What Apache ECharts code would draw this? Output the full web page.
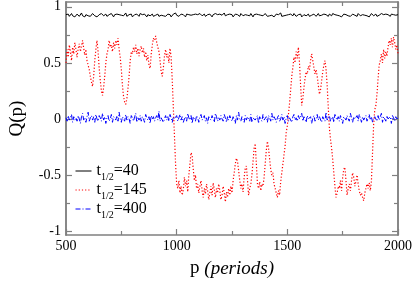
<!DOCTYPE html>
<html>
<head>
<meta charset="utf-8">
<script src="https://cdn.jsdelivr.net/npm/echarts@6/dist/echarts.min.js"></script>
<style>html,body{margin:0;padding:0;background:#fff}#c{width:415px;height:283px}</style>
</head>
<body>
<div id="c"></div>
<script>
// Sampling of the period axis
var pStart = 500, pStep = 5;
var xTicks = [500, 1000, 1500, 2000];
var yMajor = [-1, -0.5, 0, 0.5, 1];
var yMinor = [-0.75, -0.25, 0.25, 0.75];
var seriesNames = ['t1/2=40', 't1/2=145', 't1/2=400'];
var halfLives = ['40', '145', '400'];

// t1/2 = 40 (black, solid)
var q40 = [
0.93,0.92,0.935,0.915,0.925,0.94,0.92,0.93,0.91,0.925,
0.935,0.92,0.915,0.93,0.945,0.92,0.925,0.91,0.93,0.935,
0.92,0.93,0.915,0.925,0.94,0.93,0.92,0.935,0.91,0.925,
0.93,0.915,0.94,0.925,0.92,0.93,0.935,0.915,0.925,0.93,
0.92,0.94,0.925,0.91,0.93,0.925,0.935,0.92,0.93,0.915,
0.925,0.935,0.92,0.93,0.945,0.915,0.925,0.93,0.92,0.935,
0.91,0.925,0.93,0.92,0.935,0.925,0.915,0.94,0.925,0.93,
0.92,0.935,0.925,0.91,0.93,0.94,0.92,0.925,0.935,0.915,
0.93,0.925,0.92,0.935,0.915,0.93,0.925,0.94,0.92,0.93,
0.915,0.925,0.935,0.92,0.93,0.91,0.925,0.935,0.92,0.945,
0.925,0.93,0.915,0.925,0.935,0.92,0.93,0.925,0.91,0.935,
0.92,0.93,0.94,0.925,0.915,0.93,0.92,0.935,0.925,0.93,
0.915,0.94,0.925,0.92,0.93,0.935,0.915,0.925,0.93,0.92,
0.935,0.925,0.91,0.93,0.92,0.94,0.925,0.93,0.915,0.935,
0.92,0.925,0.93,0.945,0.92,0.915,0.93,0.925,0.935,0.92,
0.93,0.91,0.925,0.935,0.92,0.93,0.925,0.915,0.94,0.925,
0.92,0.935,0.93,0.915,0.925,0.93,0.92,0.94,0.925,0.91,
0.93,0.925,0.935,0.92,0.93,0.915,0.925,0.935,0.92,0.93,
0.94,0.925,0.915,0.93,0.92,0.935,0.925,0.93,0.91,0.925,
0.935,0.92,0.93,0.925,0.945,0.915,0.93,0.92,0.935,0.925,
0.92,0.93,0.915,0.935,0.925,0.92,0.94,0.93,0.915,0.925,
0.93,0.92,0.935,0.91,0.925,0.93,0.94,0.92,0.925,0.935,
0.915,0.93,0.925,0.92,0.935,0.93,0.915,0.925,0.94,0.92,
0.93,0.925,0.91,0.935,0.92,0.93,0.925,0.915,0.935,0.93,
0.92,0.94,0.925,0.93,0.915,0.925,0.935,0.92,0.93,0.91,
0.925,0.935,0.92,0.93,0.945,0.92,0.925,0.915,0.93,0.935,
0.92,0.925,0.93,0.915,0.94,0.925,0.92,0.935,0.93,0.915,
0.925,0.93,0.92,0.935,0.91,0.925,0.94,0.93,0.92,0.925,
0.935,0.915,0.93,0.925,0.92,0.94,0.925,0.93,0.915,0.935,
0.92,0.93,0.925,0.915,0.935,0.92,0.93,0.94,0.925,0.92,
0.93
];

// t1/2 = 145 (red, dotted)
var q145 = [
0.50,0.62,0.55,0.66,0.60,0.52,0.64,0.58,0.68,0.62,
0.55,0.63,0.67,0.60,0.65,0.70,0.63,0.57,0.62,0.52,
0.48,0.44,0.38,0.33,0.29,0.38,0.52,0.62,0.70,0.60,
0.45,0.34,0.25,0.21,0.28,0.38,0.50,0.58,0.62,0.70,
0.64,0.66,0.60,0.68,0.63,0.70,0.66,0.72,0.62,0.55,
0.44,0.30,0.20,0.15,0.13,0.18,0.27,0.38,0.52,0.60,
0.58,0.64,0.60,0.66,0.58,0.63,0.56,0.62,0.65,0.59,
0.63,0.55,0.60,0.52,0.57,0.48,0.45,0.58,0.66,0.72,
0.70,0.74,0.68,0.64,0.60,0.52,0.42,0.38,0.46,0.56,
0.62,0.55,0.58,0.50,0.63,0.55,0.35,0.10,-0.15,-0.40,
-0.58,-0.62,-0.55,-0.66,-0.60,-0.68,-0.63,-0.52,-0.60,-0.55,
-0.65,-0.50,-0.40,-0.30,-0.33,-0.45,-0.55,-0.50,-0.62,-0.58,
-0.66,-0.60,-0.55,-0.64,-0.70,-0.62,-0.67,-0.58,-0.64,-0.72,
-0.66,-0.60,-0.68,-0.57,-0.63,-0.70,-0.62,-0.66,-0.58,-0.64,
-0.72,-0.68,-0.60,-0.66,-0.74,-0.65,-0.70,-0.62,-0.68,-0.60,
-0.66,-0.55,-0.48,-0.40,-0.35,-0.38,-0.46,-0.55,-0.62,-0.58,
-0.65,-0.52,-0.44,-0.42,-0.55,-0.68,-0.62,-0.58,-0.50,-0.38,
-0.26,-0.22,-0.40,-0.58,-0.62,-0.56,-0.64,-0.58,-0.60,-0.52,
-0.40,-0.28,-0.20,-0.26,-0.36,-0.45,-0.50,-0.48,-0.58,-0.62,
-0.66,-0.70,-0.64,-0.68,-0.56,-0.48,-0.40,-0.32,-0.24,-0.12,
-0.06,0.04,0.14,0.26,0.38,0.46,0.55,0.50,0.60,0.54,
0.64,0.50,0.30,0.12,0.18,0.28,0.36,0.42,0.40,0.47,
0.44,0.52,0.58,0.52,0.46,0.40,0.44,0.38,0.30,0.22,
0.26,0.34,0.42,0.48,0.52,0.44,0.30,0.10,-0.08,-0.18,
-0.26,-0.36,-0.48,-0.60,-0.70,-0.66,-0.60,-0.62,-0.55,-0.64,
-0.52,-0.45,-0.43,-0.55,-0.68,-0.62,-0.58,-0.64,-0.55,-0.48,
-0.52,-0.60,-0.56,-0.50,-0.58,-0.64,-0.68,-0.66,-0.70,-0.73,
-0.66,-0.62,-0.58,-0.62,-0.57,-0.64,-0.55,-0.30,-0.05,0.08,
0.12,0.22,0.36,0.48,0.52,0.58,0.50,0.62,0.54,0.60,
0.56,0.64,0.70,0.66,0.72,0.64,0.73,0.68,0.62,0.66,
0.58
];

// t1/2 = 400 (blue, dash-dot)
var q400 = [
0.01,-0.02,0.03,-0.01,0.00,0.04,-0.03,0.02,-0.01,0.01,
-0.02,0.03,0.00,-0.04,0.02,0.05,-0.01,0.01,-0.03,0.02,
0.06,-0.02,0.01,0.03,-0.01,0.02,-0.03,0.04,0.00,-0.02,
0.03,0.01,-0.02,0.05,-0.01,0.02,-0.04,0.01,0.03,-0.02,
0.00,0.04,-0.03,0.02,0.01,-0.01,0.03,-0.02,0.06,0.00,
-0.03,0.02,0.01,-0.02,0.04,-0.01,0.02,0.00,-0.04,0.03,
0.01,-0.02,0.02,0.05,-0.03,0.01,-0.01,0.03,-0.02,0.02,
0.00,-0.03,0.04,0.01,-0.01,0.02,-0.04,0.03,0.00,0.02,
-0.02,0.01,0.03,-0.01,0.07,-0.02,0.01,0.02,-0.03,0.00,
0.03,-0.01,0.02,-0.02,0.04,0.01,-0.03,0.02,0.00,-0.01,
0.03,-0.02,0.01,0.04,-0.01,0.02,-0.03,0.00,0.02,-0.02,
0.05,0.01,-0.01,0.03,-0.04,0.02,0.00,-0.02,0.03,0.01,
-0.03,0.02,0.04,-0.01,0.00,0.03,-0.02,0.01,-0.04,0.02,
0.01,-0.01,0.03,0.00,-0.03,0.05,0.02,-0.02,0.01,-0.01,
0.03,0.00,-0.02,0.04,0.01,-0.03,0.02,-0.01,0.03,0.00,
-0.02,0.02,0.01,-0.04,0.03,-0.01,0.06,0.00,-0.02,0.02,
0.01,-0.03,0.03,-0.01,0.02,0.00,-0.02,0.04,-0.03,0.01,
0.02,-0.01,0.00,0.03,-0.04,0.02,0.01,-0.02,0.04,-0.01,
0.00,0.02,-0.03,0.03,0.01,-0.02,0.05,-0.01,0.02,0.00,
-0.03,0.01,0.03,-0.02,0.00,0.04,-0.01,0.02,-0.04,0.01,
0.03,-0.02,0.01,0.00,-0.03,0.02,0.04,-0.01,0.01,-0.02,
0.03,0.00,-0.01,0.05,-0.02,0.02,0.01,-0.03,0.03,0.00,
-0.01,0.02,-0.04,0.01,0.03,-0.02,0.00,0.04,-0.01,0.02,
0.01,-0.03,0.02,0.00,-0.02,0.06,-0.01,0.01,0.03,-0.02,
0.00,0.02,-0.03,0.04,0.01,-0.01,0.02,-0.02,0.03,0.00,
-0.04,0.02,0.01,-0.01,0.03,0.00,-0.02,0.05,0.01,-0.03,
0.02,0.00,-0.01,0.03,-0.02,0.04,0.01,-0.03,0.02,-0.01,
0.00,0.03,-0.02,0.01,0.04,-0.01,0.02,-0.03,0.00,0.02,
0.01,-0.02,0.03,-0.01,0.00,0.05,-0.03,0.02,0.01,-0.02,
0.03,0.00,-0.01,0.02,-0.04,0.03,0.01,-0.02,0.02,0.00,
0.01
];

function pairs(vals) {
  return vals.map(function (v, i) { return [pStart + i * pStep, v]; });
}

var serif = 'Liberation Serif';
var frame = { color: '#808080', width: 1.5 };
var yMin = -1.035, yMax = 1.043;

function yAxisDef(pos, ticks, len, labels, extra) {
  var a = {
    type: 'value', position: pos, min: yMin, max: yMax,
    axisLine: { show: true, onZero: false, lineStyle: frame },
    axisTick: { show: true, inside: true, length: len, customValues: ticks, lineStyle: { color: '#808080', width: 1.2 } },
    axisLabel: labels ? { show: true, customValues: ticks, fontFamily: serif, fontSize: 14, color: '#000', margin: 5 } : { show: false },
    splitLine: { show: false }
  };
  if (extra) for (var k in extra) a[k] = extra[k];
  return a;
}

var chart = echarts.init(document.getElementById('c'), null, { renderer: 'canvas' });
chart.setOption({
  animation: false,
  backgroundColor: '#fff',
  grid: { left: 51, right: 16, top: 1, bottom: 39, containLabel: false },
  legend: {
    orient: 'vertical', left: 70, top: 158, itemWidth: 16, itemHeight: 10, itemGap: 0,
    data: seriesNames,
    itemStyle: { opacity: 0 },
    lineStyle: { width: 1 },
    formatter: function (name) {
      var i = seriesNames.indexOf(name);
      return '{a|t}{s|1/2}{a|=' + halfLives[i] + '}';
    },
    textStyle: {
      rich: {
        a: { fontFamily: serif, fontSize: 16, lineHeight: 16, color: '#000', verticalAlign: 'top' },
        s: { fontFamily: serif, fontSize: 10, lineHeight: 10, color: '#000', verticalAlign: 'top', padding: [9, 0, 0, 0] }
      }
    }
  },
  xAxis: [
    {
      type: 'value', position: 'bottom', min: xTicks[0], max: xTicks[xTicks.length - 1], interval: 500,
      axisLine: { show: true, onZero: false, lineStyle: frame },
      axisTick: { show: true, inside: true, length: 6, lineStyle: { color: '#808080', width: 1.2 } },
      minorTick: { show: true, splitNumber: 2, length: 4, lineStyle: { color: '#808080', width: 1.2 } },
      axisLabel: { fontFamily: serif, fontSize: 14, color: '#000', margin: 4, formatter: function (v) { return String(v); } },
      splitLine: { show: false },
      name: 'p {i|(periods)}', nameLocation: 'middle', nameGap: 24,
      nameTextStyle: { fontFamily: serif, fontSize: 19, color: '#000',
        rich: { i: { fontFamily: serif, fontSize: 19, fontStyle: 'italic', color: '#000' } } }
    },
    {
      type: 'value', position: 'top', min: xTicks[0], max: xTicks[xTicks.length - 1], interval: 500,
      axisLine: { show: true, onZero: false, lineStyle: frame },
      axisTick: { show: true, inside: true, length: 6, lineStyle: { color: '#808080', width: 1.2 } },
      minorTick: { show: true, splitNumber: 2, length: 4, lineStyle: { color: '#808080', width: 1.2 } },
      axisLabel: { show: false }, splitLine: { show: false }
    }
  ],
  yAxis: [
    yAxisDef('left', yMajor, 6, true, { name: 'Q(p)', nameLocation: 'middle', nameGap: 39,
      nameTextStyle: { fontFamily: serif, fontSize: 19, color: '#000' } }),
    yAxisDef('left', yMinor, 4, false),
    yAxisDef('right', yMajor, 6, false),
    yAxisDef('right', yMinor, 4, false)
  ],
  series: [
    { name: seriesNames[0], type: 'line', data: pairs(q40), showSymbol: false, symbol: 'none',
      lineStyle: { color: '#000', width: 1 }, itemStyle: { color: '#000' } },
    { name: seriesNames[1], type: 'line', data: pairs(q145), showSymbol: false, symbol: 'none',
      lineStyle: { color: '#ff0000', width: 1.2, type: [1.2, 2] }, itemStyle: { color: '#ff0000' } },
    { name: seriesNames[2], type: 'line', data: pairs(q400), showSymbol: false, symbol: 'none',
      lineStyle: { color: '#0000ff', width: 1, type: [5, 2, 1, 2] }, itemStyle: { color: '#0000ff' } }
  ]
});
</script>
</body>
</html>
